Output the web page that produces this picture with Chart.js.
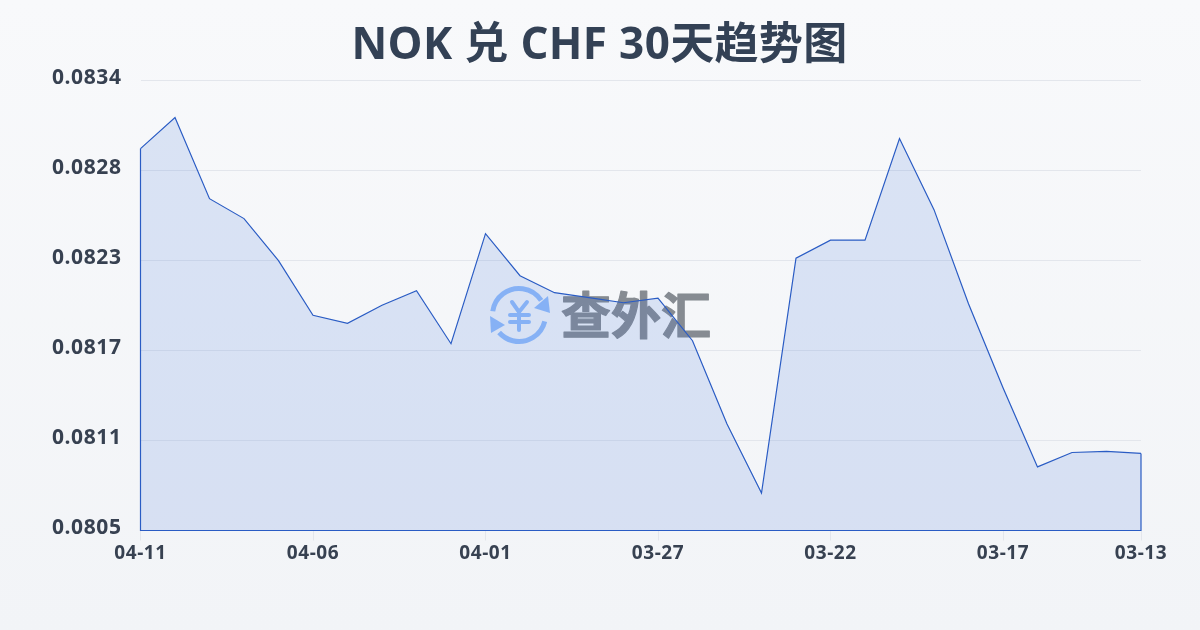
<!DOCTYPE html>
<html>
<head>
<meta charset="utf-8">
<title>NOK 兑 CHF 30天趋势图</title>
<script src="https://cdn.jsdelivr.net/npm/chart.js@4"></script>
<style>
  html, body { margin: 0; padding: 0; }
  body { width: 1200px; height: 630px; overflow: hidden; background: linear-gradient(180deg, #f8f9fb 0%, #f2f4f7 100%); }
  canvas { display: block; }
</style>
</head>
<body>
<canvas id="rateChart" width="1200" height="630"></canvas>
<script>
var chartTitle = "NOK 兑 CHF 30天趋势图";
var watermarkText = "查外汇";

var dates = ["04-11", "04-10", "04-09", "04-08", "04-07", "04-06", "04-05", "04-04", "04-03", "04-02",
             "04-01", "03-31", "03-30", "03-29", "03-28", "03-27", "03-26", "03-25", "03-24", "03-23",
             "03-22", "03-21", "03-20", "03-19", "03-18", "03-17", "03-16", "03-15", "03-14", "03-13"];

var rates = [0.082973, 0.083171, 0.082654, 0.082527, 0.082259, 0.081911, 0.08186, 0.081975, 0.082068, 0.08173,
             0.082431, 0.082163, 0.082055, 0.082023, 0.081991, 0.08202, 0.081749, 0.081219, 0.080779, 0.082275,
             0.08239, 0.08239, 0.083037, 0.082584, 0.081985, 0.081449, 0.080945, 0.081037, 0.081044, 0.081031];

var yTicks = [0.08054, 0.081114, 0.081688, 0.082262, 0.082836, 0.08341];
var shownDates = ["04-11", "04-06", "04-01", "03-27", "03-22", "03-17", "03-13"];

// canvas state is reset when Chart sizes the canvas, so the tick spacing is set here
var spacingPlugin = {
    id: 'spacing',
    beforeDraw: function (chart) {
        chart.ctx.letterSpacing = '0.6px';
    }
};

// closes the outline down the two sides and along the bottom, title goes on last
var outlinePlugin = {
    id: 'outline',
    afterDatasetsDraw: function (chart) {
        var c = chart.ctx, x = chart.scales.x, y = chart.scales.y;
        var last = rates.length - 1;
        c.save();
        c.strokeStyle = '#2a5cc4';
        c.lineWidth = 1.2;
        c.beginPath();
        c.moveTo(x.getPixelForValue(0), y.getPixelForValue(rates[0]));
        c.lineTo(x.getPixelForValue(0), y.bottom);
        c.lineTo(x.getPixelForValue(last), y.bottom);
        c.lineTo(x.getPixelForValue(last), y.getPixelForValue(rates[last]));
        c.stroke();

        c.letterSpacing = '0.35px';
        c.fillStyle = '#334155';
        c.font = 'bold 44px "Open Sans", "Noto Sans CJK SC", sans-serif';
        c.textAlign = 'center';
        c.textBaseline = 'middle';
        c.fillText(chartTitle, 599.5, 46);
        c.restore();
    }
};

// logo and name in the middle of the plot
var watermarkPlugin = {
    id: 'watermark',
    beforeDatasetsDraw: function (chart) {
        var c = chart.ctx;
        c.save();
        c.letterSpacing = '0px';
        c.strokeStyle = '#93bdfb';
        c.fillStyle = '#93bdfb';
        c.lineWidth = 5;
        c.beginPath();
        c.arc(519, 315, 26.5, -3.0, -0.58);
        c.stroke();
        c.beginPath();
        c.arc(519, 315, 26.5, 0.24, 2.42);
        c.stroke();
        c.beginPath();
        c.moveTo(548, 296); c.lineTo(550, 313); c.lineTo(534, 308);
        c.closePath();
        c.fill();
        c.beginPath();
        c.moveTo(490, 316); c.lineTo(505, 325); c.lineTo(491, 333);
        c.closePath();
        c.fill();
        c.lineWidth = 4;
        c.lineCap = 'round';
        c.lineJoin = 'round';
        c.beginPath();
        c.moveTo(512, 302); c.lineTo(519, 312); c.lineTo(527, 302);
        c.moveTo(510, 315); c.lineTo(529, 315);
        c.moveTo(510, 322); c.lineTo(529, 322);
        c.moveTo(519, 312); c.lineTo(519, 330);
        c.stroke();
        c.fillStyle = '#868b92';
        c.strokeStyle = '#868b92';
        c.lineWidth = 1.2;
        c.font = 'bold 50px "Noto Sans CJK SC"';
        c.textAlign = 'left';
        c.textBaseline = 'middle';
        c.fillText(watermarkText, 561, 315);
        c.strokeText(watermarkText, 561, 315);
        c.restore();
    }
};

var ctx = document.getElementById('rateChart').getContext('2d');

new Chart(ctx, {
    type: 'line',
    data: {
        labels: dates,
        datasets: [{
            data: rates,
            borderColor: '#2a5cc4',
            borderWidth: 1.2,
            backgroundColor: 'rgba(66, 120, 220, 0.16)',
            fill: 'start',
            tension: 0,
            pointRadius: 0
        }]
    },
    options: {
        responsive: false,
        animation: false,
        layout: { padding: { left: 0, right: 59, top: 80, bottom: 0 } },
        plugins: {
            legend: { display: false },
            tooltip: { enabled: false },
            title: { display: false }
        },
        scales: {
            x: {
                offset: false,
                afterFit: function (scale) { scale.height = 99.5; },
                grid: {
                    drawOnChartArea: false,
                    drawTicks: true,
                    tickLength: 10,
                    tickColor: function (context) {
                        return shownDates.indexOf(dates[context.index]) >= 0 ? '#e3e6ec' : 'rgba(0,0,0,0)';
                    }
                },
                border: { display: false },
                ticks: {
                    autoSkip: false,
                    maxRotation: 0,
                    color: '#374151',
                    padding: 2,
                    font: { family: '"Open Sans"', size: 19, weight: 'bold' },
                    callback: function (value) {
                        var label = this.getLabelForValue(value);
                        return shownDates.indexOf(label) >= 0 ? label : '';
                    }
                }
            },
            y: {
                min: yTicks[0],
                max: yTicks[yTicks.length - 1],
                afterBuildTicks: function (scale) {
                    scale.ticks = yTicks.map(function (v) { return { value: v }; });
                },
                afterFit: function (scale) { scale.width = 140.5; },
                grid: { drawTicks: false, color: '#e3e6ec' },
                border: { display: false },
                ticks: {
                    color: '#374151',
                    padding: 19,
                    labelOffset: -2,
                    font: { family: '"Open Sans"', size: 21, weight: 'bold' },
                    callback: function (value) { return value.toFixed(4); }
                }
            }
        }
    },
    plugins: [spacingPlugin, watermarkPlugin, outlinePlugin]
});
</script>
</body>
</html>
